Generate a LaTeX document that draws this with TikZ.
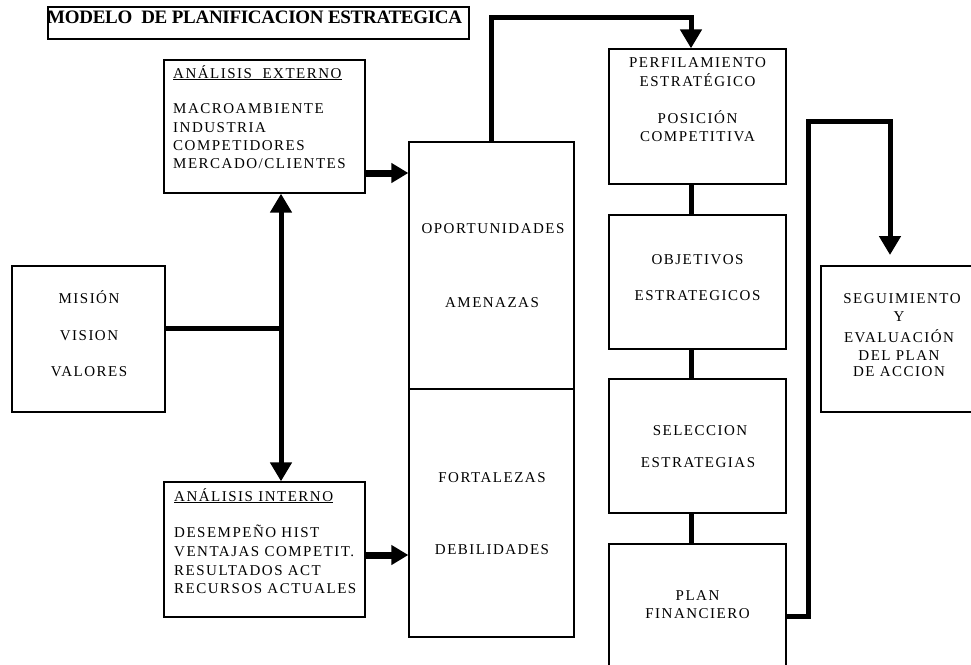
\documentclass[tikz,border=0pt]{standalone}
\usepackage{fontspec}
\setmainfont{Liberation Serif}[LetterSpace=10]
\newfontfamily\headfont{Liberation Serif}[LetterSpace=-1.5]
\usetikzlibrary{arrows.meta}

\begin{document}
\begin{tikzpicture}[x=1pt,y=-1pt,
  box/.style={draw, line width=1.3pt, inner sep=0pt},
  txt/.style={font=\fontsize{15}{17}\selectfont, inner sep=0pt, anchor=base},
  ltxt/.style={txt, anchor=base west},
  wire/.style={line width=5pt},
  arr/.style={wire, -{Triangle[width=21pt,length=19pt]}},
  harr/.style={line width=7pt, -{Triangle[width=19pt,length=17pt]}}]

\useasboundingbox (0,0) rectangle (971,664);
\fill[white] (0,0) rectangle (971,664);
\clip (0,0) rectangle (971,664);

% heading
\node[box, minimum width=421pt, minimum height=32pt] (tbox) at (258.5,23) {};
\node[anchor=base west, inner sep=0pt,
      font=\headfont\fontsize{19}{21}\selectfont\bfseries] (ttl) at (47,23)
      {MODELO\ \ DE PLANIFICACION ESTRATEGICA};

% boxes
\node[box, minimum width=201pt, minimum height=133pt] (ext) at (264.5,126.5) {};
\node[box, minimum width=153pt, minimum height=146pt] (mis) at (88.5,339) {};
\node[box, minimum width=201pt, minimum height=135pt] (int) at (264.5,549.5) {};
\node[box, minimum width=165pt, minimum height=247pt] (opp) at (491.5,265.5) {};
\node[box, minimum width=165pt, minimum height=248pt] (fod) at (491.5,513) {};
\node[box, minimum width=177pt, minimum height=135pt] (perf) at (697.5,116.5) {};
\node[box, minimum width=177pt, minimum height=134pt] (obj) at (697.5,282) {};
\node[box, minimum width=177pt, minimum height=134pt] (sel) at (697.5,446) {};
\node[box, minimum width=177pt, minimum height=136pt] (plan) at (697.5,612) {};
\node[box, minimum width=159pt, minimum height=146pt] (seg) at (900.5,339) {};

% external analysis
\node[ltxt] (e0) at (173,78) {\underline{ANÁLISIS\ \ EXTERNO}};
\node[ltxt] (e1) at (173,113) {MACROAMBIENTE};
\node[ltxt] (e2) at (173,132) {INDUSTRIA};
\node[ltxt] (e3) at (173,150) {COMPETIDORES};
\node[ltxt] (e4) at (173,168) {MERCADO/CLIENTES};

% internal analysis
\node[ltxt] (i0) at (174,501) {\underline{ANÁLISIS INTERNO}};
\node[ltxt] (i1) at (174,537) {DESEMPEÑO HIST};
\node[ltxt] (i2) at (174,556) {VENTAJAS COMPETIT.};
\node[ltxt] (i3) at (174,575) {RESULTADOS ACT};
\node[ltxt] (i4) at (174,593) {RECURSOS ACTUALES};

% mission
\node[txt] (m1) at (89,303) {MISIÓN};
\node[txt] (m2) at (89,340) {VISION};
\node[txt] (m3) at (89,376) {VALORES};

% SWOT
\node[txt] (o1) at (493,233) {OPORTUNIDADES};
\node[txt] (o2) at (492,307) {AMENAZAS};
\node[txt] (f1) at (492,482) {FORTALEZAS};
\node[txt] (f2) at (492,554) {DEBILIDADES};

% strategic chain
\node[txt] (p1) at (697.5,67) {PERFILAMIENTO};
\node[txt] (p2) at (697.5,86) {ESTRATÉGICO};
\node[txt] (p3) at (697.5,123) {POSICIÓN};
\node[txt] (p4) at (697.5,141) {COMPETITIVA};
\node[txt] (b1) at (697.5,264) {OBJETIVOS};
\node[txt] (b2) at (697.5,300) {ESTRATEGICOS};
\node[txt] (s1) at (700,435) {SELECCION};
\node[txt] (s2) at (698,467) {ESTRATEGIAS};
\node[txt] (n1) at (697.5,600) {PLAN};
\node[txt] (n2) at (697.5,618) {FINANCIERO};

% follow-up
\node[txt] (g1) at (902,303) {SEGUIMIENTO};
\node[txt] (g2) at (899,321) {Y};
\node[txt] (g3) at (899,342) {EVALUACIÓN};
\node[txt] (g4) at (899,360) {DEL PLAN};
\node[txt] (g5) at (899,376) {DE ACCION};

% connectors
\coordinate (bus) at (281,328);
\coordinate (ey) at (0,173);
\coordinate (iy) at (0,555);
\coordinate (k0) at (491,0);
\coordinate (k1) at (691,17);
\coordinate (r0) at (0,616);
\coordinate (r1) at (808,616);
\coordinate (r2) at (808,121);
\coordinate (r3) at (890,121);
\coordinate (r4) at (890,255);

\draw[wire] (mis.east |- bus) -- (bus);
\draw[arr] (bus) -- (ext.south -| bus);
\draw[arr] (bus) -- (int.north -| bus);
\draw[harr] (ext.east |- ey) -- (opp.west |- ey);
\draw[harr] (int.east |- iy) -- (fod.west |- iy);
\draw[arr] (opp.north -| k0) |- (k1) -- (perf.north -| k1);
\draw[wire] (perf.south -| k1) -- (obj.north -| k1);
\draw[wire] (obj.south -| k1) -- (sel.north -| k1);
\draw[wire] (sel.south -| k1) -- (plan.north -| k1);
\draw[arr] (plan.east |- r0) -- (r1) -- (r2) -- (r3) -- (r4);
\end{tikzpicture}
\end{document}
